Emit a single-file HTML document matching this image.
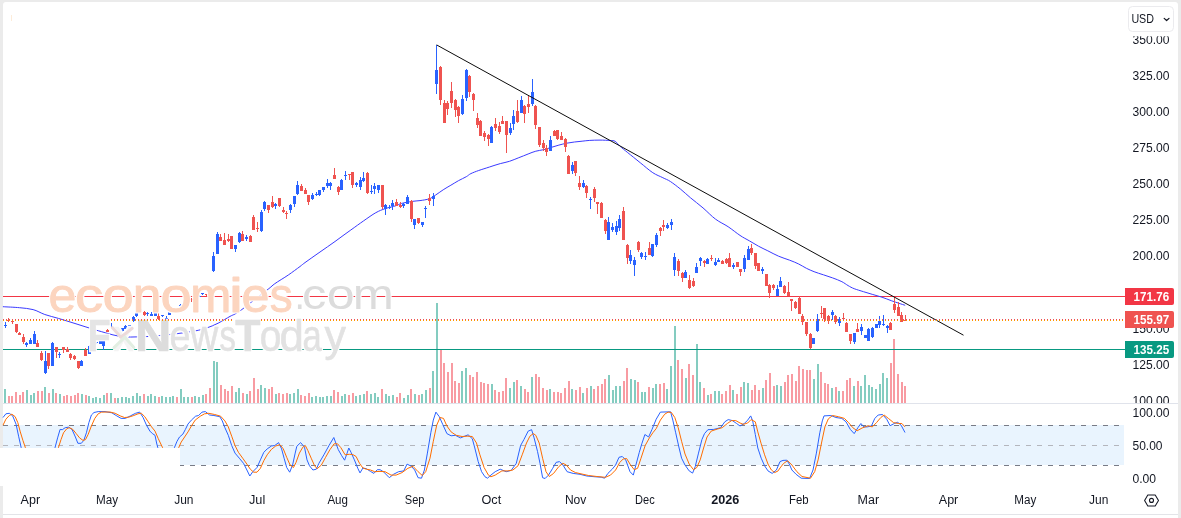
<!DOCTYPE html>
<html lang="en">
<head>
<meta charset="utf-8">
<title>Chart</title>
<style>
html,body{margin:0;padding:0;background:#fff;}
body{width:1181px;height:518px;overflow:hidden;position:relative;font-family:'Liberation Sans', Arial, sans-serif;}
</style>
</head>
<body>
<svg width="1181" height="518" viewBox="0 0 1181 518" style="display:block;position:absolute;left:0;top:0" font-family="'Liberation Sans', Arial, sans-serif">
<rect x="0" y="0" width="1181" height="518" fill="#ebebeb"/>
<path d="M3 518 V5 Q3 2 6 2 H1175 Q1178 2 1178 5 V518 Z" fill="#ffffff"/>
<rect x="11" y="15" width="1" height="6" fill="#fdecd9"/>
<rect x="3" y="425" width="1121" height="40" fill="#e9f4fe"/>
<g shape-rendering="crispEdges"><rect x="4" y="389" width="2" height="14" fill="#84ccc0"/><rect x="8" y="396" width="2" height="7" fill="#f89ba2"/><rect x="11" y="396" width="2" height="7" fill="#f89ba2"/><rect x="15" y="392" width="2" height="11" fill="#f89ba2"/><rect x="19" y="395" width="2" height="8" fill="#f89ba2"/><rect x="22" y="392" width="2" height="11" fill="#f89ba2"/><rect x="26" y="390" width="2" height="13" fill="#84ccc0"/><rect x="30" y="395" width="2" height="8" fill="#84ccc0"/><rect x="33" y="393" width="2" height="10" fill="#84ccc0"/><rect x="37" y="391" width="2" height="12" fill="#f89ba2"/><rect x="41" y="391" width="2" height="12" fill="#f89ba2"/><rect x="44" y="387" width="2" height="16" fill="#84ccc0"/><rect x="48" y="393" width="2" height="10" fill="#f89ba2"/><rect x="52" y="389" width="2" height="14" fill="#84ccc0"/><rect x="55" y="393" width="2" height="10" fill="#f89ba2"/><rect x="59" y="394" width="2" height="9" fill="#84ccc0"/><rect x="63" y="396" width="2" height="7" fill="#f89ba2"/><rect x="66" y="395" width="2" height="8" fill="#f89ba2"/><rect x="70" y="396" width="2" height="7" fill="#f89ba2"/><rect x="74" y="395" width="2" height="8" fill="#f89ba2"/><rect x="77" y="393" width="2" height="10" fill="#f89ba2"/><rect x="81" y="394" width="2" height="9" fill="#84ccc0"/><rect x="85" y="395" width="2" height="8" fill="#f89ba2"/><rect x="88" y="396" width="2" height="7" fill="#84ccc0"/><rect x="92" y="398" width="2" height="5" fill="#84ccc0"/><rect x="95" y="397" width="2" height="6" fill="#84ccc0"/><rect x="99" y="398" width="2" height="5" fill="#84ccc0"/><rect x="103" y="395" width="2" height="8" fill="#84ccc0"/><rect x="106" y="393" width="2" height="10" fill="#f89ba2"/><rect x="110" y="393" width="2" height="10" fill="#84ccc0"/><rect x="114" y="398" width="2" height="5" fill="#f89ba2"/><rect x="117" y="398" width="2" height="5" fill="#84ccc0"/><rect x="121" y="397" width="2" height="6" fill="#84ccc0"/><rect x="125" y="397" width="2" height="6" fill="#84ccc0"/><rect x="128" y="398" width="2" height="5" fill="#84ccc0"/><rect x="132" y="396" width="2" height="7" fill="#84ccc0"/><rect x="136" y="393" width="2" height="10" fill="#84ccc0"/><rect x="139" y="396" width="2" height="7" fill="#84ccc0"/><rect x="143" y="394" width="2" height="9" fill="#f89ba2"/><rect x="147" y="396" width="2" height="7" fill="#84ccc0"/><rect x="150" y="394" width="2" height="9" fill="#84ccc0"/><rect x="154" y="396" width="2" height="7" fill="#84ccc0"/><rect x="158" y="397" width="2" height="6" fill="#f89ba2"/><rect x="161" y="396" width="2" height="7" fill="#84ccc0"/><rect x="165" y="397" width="2" height="6" fill="#84ccc0"/><rect x="169" y="397" width="2" height="6" fill="#84ccc0"/><rect x="172" y="396" width="2" height="7" fill="#84ccc0"/><rect x="176" y="397" width="2" height="6" fill="#f89ba2"/><rect x="180" y="389" width="2" height="14" fill="#84ccc0"/><rect x="183" y="397" width="2" height="6" fill="#84ccc0"/><rect x="187" y="397" width="2" height="6" fill="#84ccc0"/><rect x="191" y="397" width="2" height="6" fill="#f89ba2"/><rect x="194" y="396" width="2" height="7" fill="#84ccc0"/><rect x="198" y="397" width="2" height="6" fill="#84ccc0"/><rect x="202" y="395" width="2" height="8" fill="#84ccc0"/><rect x="205" y="394" width="2" height="9" fill="#f89ba2"/><rect x="209" y="388" width="2" height="15" fill="#f89ba2"/><rect x="213" y="361" width="2" height="42" fill="#84ccc0"/><rect x="216" y="362" width="2" height="41" fill="#84ccc0"/><rect x="220" y="385" width="2" height="18" fill="#f89ba2"/><rect x="224" y="389" width="2" height="14" fill="#f89ba2"/><rect x="227" y="391" width="2" height="12" fill="#f89ba2"/><rect x="231" y="386" width="2" height="17" fill="#f89ba2"/><rect x="235" y="392" width="2" height="11" fill="#84ccc0"/><rect x="238" y="388" width="2" height="15" fill="#84ccc0"/><rect x="242" y="393" width="2" height="10" fill="#f89ba2"/><rect x="246" y="394" width="2" height="9" fill="#84ccc0"/><rect x="249" y="391" width="2" height="12" fill="#f89ba2"/><rect x="253" y="378" width="2" height="25" fill="#f89ba2"/><rect x="257" y="389" width="2" height="14" fill="#f89ba2"/><rect x="260" y="385" width="2" height="18" fill="#84ccc0"/><rect x="264" y="388" width="2" height="15" fill="#84ccc0"/><rect x="268" y="389" width="2" height="14" fill="#f89ba2"/><rect x="271" y="387" width="2" height="16" fill="#f89ba2"/><rect x="275" y="394" width="2" height="9" fill="#84ccc0"/><rect x="278" y="393" width="2" height="10" fill="#f89ba2"/><rect x="282" y="394" width="2" height="9" fill="#f89ba2"/><rect x="286" y="393" width="2" height="10" fill="#f89ba2"/><rect x="289" y="394" width="2" height="9" fill="#84ccc0"/><rect x="293" y="393" width="2" height="10" fill="#84ccc0"/><rect x="297" y="389" width="2" height="14" fill="#84ccc0"/><rect x="300" y="395" width="2" height="8" fill="#f89ba2"/><rect x="304" y="396" width="2" height="7" fill="#f89ba2"/><rect x="308" y="393" width="2" height="10" fill="#f89ba2"/><rect x="311" y="397" width="2" height="6" fill="#84ccc0"/><rect x="315" y="396" width="2" height="7" fill="#84ccc0"/><rect x="319" y="397" width="2" height="6" fill="#84ccc0"/><rect x="322" y="397" width="2" height="6" fill="#84ccc0"/><rect x="326" y="396" width="2" height="7" fill="#84ccc0"/><rect x="330" y="396" width="2" height="7" fill="#84ccc0"/><rect x="333" y="390" width="2" height="13" fill="#f89ba2"/><rect x="337" y="392" width="2" height="11" fill="#f89ba2"/><rect x="341" y="396" width="2" height="7" fill="#84ccc0"/><rect x="344" y="394" width="2" height="9" fill="#84ccc0"/><rect x="348" y="395" width="2" height="8" fill="#f89ba2"/><rect x="352" y="393" width="2" height="10" fill="#f89ba2"/><rect x="355" y="396" width="2" height="7" fill="#84ccc0"/><rect x="359" y="395" width="2" height="8" fill="#84ccc0"/><rect x="363" y="394" width="2" height="9" fill="#84ccc0"/><rect x="366" y="391" width="2" height="12" fill="#f89ba2"/><rect x="370" y="394" width="2" height="9" fill="#84ccc0"/><rect x="374" y="393" width="2" height="10" fill="#84ccc0"/><rect x="377" y="397" width="2" height="6" fill="#84ccc0"/><rect x="381" y="389" width="2" height="14" fill="#f89ba2"/><rect x="385" y="394" width="2" height="9" fill="#84ccc0"/><rect x="388" y="396" width="2" height="7" fill="#84ccc0"/><rect x="392" y="395" width="2" height="8" fill="#84ccc0"/><rect x="396" y="397" width="2" height="6" fill="#f89ba2"/><rect x="399" y="393" width="2" height="10" fill="#f89ba2"/><rect x="403" y="398" width="2" height="5" fill="#84ccc0"/><rect x="407" y="395" width="2" height="8" fill="#84ccc0"/><rect x="410" y="389" width="2" height="14" fill="#f89ba2"/><rect x="414" y="394" width="2" height="9" fill="#84ccc0"/><rect x="418" y="395" width="2" height="8" fill="#f89ba2"/><rect x="421" y="394" width="2" height="9" fill="#84ccc0"/><rect x="425" y="390" width="2" height="13" fill="#84ccc0"/><rect x="429" y="388" width="2" height="15" fill="#f89ba2"/><rect x="432" y="371" width="2" height="32" fill="#84ccc0"/><rect x="436" y="303" width="2" height="100" fill="#84ccc0"/><rect x="440" y="350" width="2" height="53" fill="#f89ba2"/><rect x="443" y="363" width="2" height="40" fill="#f89ba2"/><rect x="447" y="372" width="2" height="31" fill="#f89ba2"/><rect x="451" y="363" width="2" height="40" fill="#f89ba2"/><rect x="454" y="381" width="2" height="22" fill="#f89ba2"/><rect x="458" y="383" width="2" height="20" fill="#f89ba2"/><rect x="461" y="371" width="2" height="32" fill="#84ccc0"/><rect x="465" y="368" width="2" height="35" fill="#84ccc0"/><rect x="469" y="375" width="2" height="28" fill="#f89ba2"/><rect x="472" y="377" width="2" height="26" fill="#f89ba2"/><rect x="476" y="372" width="2" height="31" fill="#f89ba2"/><rect x="480" y="382" width="2" height="21" fill="#f89ba2"/><rect x="483" y="383" width="2" height="20" fill="#f89ba2"/><rect x="487" y="384" width="2" height="19" fill="#f89ba2"/><rect x="491" y="384" width="2" height="19" fill="#84ccc0"/><rect x="494" y="390" width="2" height="13" fill="#f89ba2"/><rect x="498" y="392" width="2" height="11" fill="#f89ba2"/><rect x="502" y="391" width="2" height="12" fill="#f89ba2"/><rect x="505" y="378" width="2" height="25" fill="#f89ba2"/><rect x="509" y="388" width="2" height="15" fill="#84ccc0"/><rect x="513" y="382" width="2" height="21" fill="#84ccc0"/><rect x="516" y="380" width="2" height="23" fill="#f89ba2"/><rect x="520" y="386" width="2" height="17" fill="#84ccc0"/><rect x="524" y="389" width="2" height="14" fill="#f89ba2"/><rect x="527" y="392" width="2" height="11" fill="#f89ba2"/><rect x="531" y="377" width="2" height="26" fill="#84ccc0"/><rect x="535" y="374" width="2" height="29" fill="#f89ba2"/><rect x="538" y="377" width="2" height="26" fill="#f89ba2"/><rect x="542" y="388" width="2" height="15" fill="#f89ba2"/><rect x="546" y="390" width="2" height="13" fill="#f89ba2"/><rect x="549" y="389" width="2" height="14" fill="#84ccc0"/><rect x="553" y="392" width="2" height="11" fill="#f89ba2"/><rect x="557" y="392" width="2" height="11" fill="#f89ba2"/><rect x="560" y="393" width="2" height="10" fill="#f89ba2"/><rect x="564" y="388" width="2" height="15" fill="#f89ba2"/><rect x="568" y="381" width="2" height="22" fill="#f89ba2"/><rect x="571" y="389" width="2" height="14" fill="#84ccc0"/><rect x="575" y="390" width="2" height="13" fill="#f89ba2"/><rect x="579" y="387" width="2" height="16" fill="#f89ba2"/><rect x="582" y="393" width="2" height="10" fill="#84ccc0"/><rect x="586" y="388" width="2" height="15" fill="#f89ba2"/><rect x="590" y="386" width="2" height="17" fill="#84ccc0"/><rect x="593" y="389" width="2" height="14" fill="#f89ba2"/><rect x="597" y="386" width="2" height="17" fill="#f89ba2"/><rect x="601" y="384" width="2" height="19" fill="#f89ba2"/><rect x="604" y="379" width="2" height="24" fill="#f89ba2"/><rect x="608" y="375" width="2" height="28" fill="#84ccc0"/><rect x="612" y="390" width="2" height="13" fill="#84ccc0"/><rect x="615" y="386" width="2" height="17" fill="#84ccc0"/><rect x="619" y="386" width="2" height="17" fill="#84ccc0"/><rect x="623" y="381" width="2" height="22" fill="#f89ba2"/><rect x="626" y="368" width="2" height="35" fill="#f89ba2"/><rect x="630" y="379" width="2" height="24" fill="#84ccc0"/><rect x="634" y="380" width="2" height="23" fill="#84ccc0"/><rect x="637" y="382" width="2" height="21" fill="#f89ba2"/><rect x="641" y="392" width="2" height="11" fill="#84ccc0"/><rect x="644" y="392" width="2" height="11" fill="#84ccc0"/><rect x="648" y="387" width="2" height="16" fill="#f89ba2"/><rect x="652" y="388" width="2" height="15" fill="#84ccc0"/><rect x="655" y="384" width="2" height="19" fill="#84ccc0"/><rect x="659" y="384" width="2" height="19" fill="#f89ba2"/><rect x="663" y="383" width="2" height="20" fill="#f89ba2"/><rect x="666" y="389" width="2" height="14" fill="#84ccc0"/><rect x="670" y="366" width="2" height="37" fill="#84ccc0"/><rect x="674" y="326" width="2" height="77" fill="#84ccc0"/><rect x="677" y="360" width="2" height="43" fill="#f89ba2"/><rect x="681" y="369" width="2" height="34" fill="#f89ba2"/><rect x="685" y="378" width="2" height="25" fill="#84ccc0"/><rect x="688" y="364" width="2" height="39" fill="#f89ba2"/><rect x="692" y="375" width="2" height="28" fill="#f89ba2"/><rect x="696" y="344" width="2" height="59" fill="#84ccc0"/><rect x="699" y="382" width="2" height="21" fill="#84ccc0"/><rect x="703" y="388" width="2" height="15" fill="#f89ba2"/><rect x="707" y="395" width="2" height="8" fill="#84ccc0"/><rect x="710" y="394" width="2" height="9" fill="#f89ba2"/><rect x="714" y="391" width="2" height="12" fill="#84ccc0"/><rect x="718" y="391" width="2" height="12" fill="#84ccc0"/><rect x="721" y="394" width="2" height="9" fill="#f89ba2"/><rect x="725" y="391" width="2" height="12" fill="#f89ba2"/><rect x="729" y="385" width="2" height="18" fill="#f89ba2"/><rect x="732" y="390" width="2" height="13" fill="#84ccc0"/><rect x="736" y="394" width="2" height="9" fill="#f89ba2"/><rect x="740" y="387" width="2" height="16" fill="#f89ba2"/><rect x="743" y="382" width="2" height="21" fill="#84ccc0"/><rect x="747" y="383" width="2" height="20" fill="#84ccc0"/><rect x="751" y="390" width="2" height="13" fill="#f89ba2"/><rect x="754" y="385" width="2" height="18" fill="#f89ba2"/><rect x="758" y="390" width="2" height="13" fill="#f89ba2"/><rect x="762" y="388" width="2" height="15" fill="#84ccc0"/><rect x="765" y="380" width="2" height="23" fill="#f89ba2"/><rect x="769" y="373" width="2" height="30" fill="#f89ba2"/><rect x="773" y="386" width="2" height="17" fill="#f89ba2"/><rect x="776" y="385" width="2" height="18" fill="#84ccc0"/><rect x="780" y="386" width="2" height="17" fill="#84ccc0"/><rect x="784" y="382" width="2" height="21" fill="#f89ba2"/><rect x="787" y="375" width="2" height="28" fill="#f89ba2"/><rect x="791" y="374" width="2" height="29" fill="#f89ba2"/><rect x="795" y="381" width="2" height="22" fill="#f89ba2"/><rect x="798" y="366" width="2" height="37" fill="#f89ba2"/><rect x="802" y="369" width="2" height="34" fill="#f89ba2"/><rect x="806" y="370" width="2" height="33" fill="#f89ba2"/><rect x="809" y="370" width="2" height="33" fill="#f89ba2"/><rect x="813" y="379" width="2" height="24" fill="#84ccc0"/><rect x="817" y="364" width="2" height="39" fill="#84ccc0"/><rect x="820" y="372" width="2" height="31" fill="#f89ba2"/><rect x="824" y="383" width="2" height="20" fill="#f89ba2"/><rect x="827" y="384" width="2" height="19" fill="#f89ba2"/><rect x="831" y="388" width="2" height="15" fill="#84ccc0"/><rect x="835" y="387" width="2" height="16" fill="#f89ba2"/><rect x="838" y="391" width="2" height="12" fill="#84ccc0"/><rect x="842" y="391" width="2" height="12" fill="#f89ba2"/><rect x="846" y="380" width="2" height="23" fill="#f89ba2"/><rect x="849" y="378" width="2" height="25" fill="#f89ba2"/><rect x="853" y="386" width="2" height="17" fill="#84ccc0"/><rect x="857" y="381" width="2" height="22" fill="#f89ba2"/><rect x="860" y="386" width="2" height="17" fill="#84ccc0"/><rect x="864" y="375" width="2" height="28" fill="#84ccc0"/><rect x="868" y="385" width="2" height="18" fill="#84ccc0"/><rect x="871" y="387" width="2" height="16" fill="#84ccc0"/><rect x="875" y="389" width="2" height="14" fill="#84ccc0"/><rect x="879" y="384" width="2" height="19" fill="#84ccc0"/><rect x="882" y="373" width="2" height="30" fill="#84ccc0"/><rect x="886" y="378" width="2" height="25" fill="#84ccc0"/><rect x="890" y="363" width="2" height="40" fill="#f89ba2"/><rect x="893" y="339" width="2" height="64" fill="#f89ba2"/><rect x="897" y="374" width="2" height="29" fill="#f89ba2"/><rect x="901" y="382" width="2" height="21" fill="#f89ba2"/><rect x="904" y="386" width="2" height="17" fill="#f89ba2"/></g>
<rect x="3" y="296" width="1122" height="1" fill="#f23645"/>
<rect x="3" y="349" width="1122" height="1" fill="#089981"/>
<path d="M2.9 306.7 C5.7 306.9 14.5 307.2 19.5 307.7 C24.5 308.2 28.9 308.5 33.1 309.6 C37.3 310.7 40.6 313.0 44.8 314.5 C49.0 316.0 53.5 316.9 58.4 318.4 C63.3 319.8 68.8 321.6 74.0 323.2 C79.2 324.8 85.0 326.7 89.6 328.1 C94.1 329.5 97.4 330.5 101.3 331.6 C105.2 332.7 109.1 334.0 113.0 334.9 C116.9 335.8 120.7 336.6 124.6 336.9 C128.5 337.2 132.4 337.0 136.3 336.9 C140.2 336.8 144.1 336.7 148.0 336.5 C151.9 336.3 155.1 335.9 159.7 335.5 C164.2 335.1 169.5 334.6 175.3 333.9 C181.1 333.1 189.5 332.0 194.7 331.0 C199.9 330.0 202.5 329.4 206.4 328.1 C210.3 326.8 214.2 325.1 218.1 323.2 C222.0 321.2 227.2 317.9 230.0 316.4 C232.8 314.9 233.0 315.1 235.0 314.0 C237.0 312.9 238.8 311.8 241.9 309.5 C245.0 307.2 248.9 304.0 253.4 300.5 C257.9 297.0 265.3 291.4 268.9 288.6 C272.5 285.8 271.6 286.0 274.8 283.7 C278.0 281.4 284.1 277.9 288.3 275.0 C292.5 272.1 297.2 268.6 300.0 266.5 C302.8 264.4 301.7 265.0 305.0 262.6 C308.3 260.2 315.0 255.5 320.0 252.0 C325.0 248.5 329.9 245.2 335.0 241.5 C340.1 237.8 346.0 233.4 350.8 230.0 C355.6 226.6 359.5 223.7 363.7 220.8 C367.9 217.9 372.2 214.7 375.8 212.7 C379.4 210.7 381.9 209.8 385.3 208.6 C388.7 207.4 393.3 206.6 396.0 205.7 C398.7 204.8 398.9 204.1 401.6 203.4 C404.3 202.7 408.9 201.9 412.0 201.4 C415.1 200.9 417.1 201.0 420.0 200.6 C422.9 200.2 426.7 199.7 429.3 198.8 C431.9 197.9 433.1 196.7 435.4 195.2 C437.7 193.7 440.6 191.5 443.2 189.8 C445.8 188.1 448.3 186.7 450.9 185.2 C453.5 183.7 456.0 182.0 458.6 180.6 C461.2 179.2 464.2 177.9 466.3 176.7 C468.4 175.5 468.8 174.6 470.9 173.6 C473.0 172.6 475.6 171.6 478.7 170.5 C481.8 169.4 485.9 168.2 489.5 167.0 C493.1 165.8 497.0 164.5 500.3 163.6 C503.6 162.7 506.4 162.3 509.5 161.3 C512.6 160.3 515.7 158.9 518.8 157.7 C521.9 156.5 525.3 155.1 528.1 154.0 C530.9 152.9 533.2 151.9 535.8 151.2 C538.4 150.5 540.9 150.3 543.5 149.7 C546.1 149.1 548.6 148.2 551.2 147.4 C553.8 146.6 556.3 145.8 558.9 145.1 C561.5 144.4 564.1 143.7 566.7 143.2 C569.3 142.7 571.8 142.3 574.4 142.0 C577.0 141.7 579.5 141.5 582.1 141.2 C584.7 140.9 586.8 140.6 589.8 140.4 C592.8 140.2 596.6 140.1 600.0 140.1 C603.4 140.1 607.6 140.3 610.1 140.5 C612.6 140.7 613.4 140.3 615.1 141.3 C616.8 142.3 618.0 144.4 620.1 146.3 C622.2 148.2 624.4 149.9 627.7 152.6 C631.1 155.3 636.0 159.3 640.2 162.7 C644.4 166.0 649.0 170.2 652.8 172.7 C656.6 175.2 659.9 176.2 662.8 177.7 C665.7 179.2 667.5 179.6 670.4 181.5 C673.3 183.4 677.0 186.3 680.4 189.0 C683.8 191.7 686.7 194.7 690.5 197.8 C694.3 201.0 698.8 204.3 703.0 207.9 C707.2 211.5 711.4 216.1 715.6 219.2 C719.8 222.3 724.0 224.0 728.1 226.7 C732.2 229.4 736.5 233.1 740.0 235.4 C743.5 237.8 746.2 239.0 749.3 240.8 C752.4 242.6 755.4 244.5 758.5 246.2 C761.6 247.9 764.4 249.1 767.8 250.8 C771.1 252.5 775.0 254.6 778.6 256.2 C782.2 257.8 786.0 258.8 789.4 260.1 C792.8 261.4 795.9 262.6 798.7 264.0 C801.5 265.4 803.8 267.0 806.4 268.3 C809.0 269.6 811.3 270.6 814.1 271.7 C816.9 272.8 820.3 273.8 823.4 274.8 C826.5 275.8 829.5 276.8 832.6 277.9 C835.7 279.0 839.3 280.4 841.9 281.7 C844.5 283.0 846.0 284.4 848.1 285.6 C850.2 286.8 851.6 287.7 854.2 288.7 C856.8 289.7 860.4 290.7 863.5 291.7 C866.6 292.7 869.7 293.6 872.8 294.5 C875.9 295.4 878.9 296.2 882.0 297.2 C885.1 298.2 888.5 299.7 891.3 300.7 C894.1 301.7 896.7 302.5 899.0 303.3 C901.3 304.1 904.2 305.0 905.2 305.3" stroke="#3a3aff" stroke-width="1" fill="none"/>
<g shape-rendering="crispEdges"><rect x="5" y="322" width="1" height="6" fill="#2962ff"/><rect x="4" y="325" width="3" height="1" fill="#2962ff"/><rect x="8" y="318" width="1" height="4" fill="#ef5350"/><rect x="7" y="320" width="3" height="1" fill="#ef5350"/><rect x="12" y="320" width="1" height="4" fill="#ef5350"/><rect x="11" y="321" width="3" height="1" fill="#ef5350"/><rect x="16" y="324" width="1" height="9" fill="#ef5350"/><rect x="15" y="324" width="3" height="8" fill="#ef5350"/><rect x="19" y="332" width="1" height="3" fill="#ef5350"/><rect x="18" y="333" width="3" height="2" fill="#ef5350"/><rect x="23" y="334" width="1" height="10" fill="#ef5350"/><rect x="22" y="337" width="3" height="5" fill="#ef5350"/><rect x="26" y="342" width="1" height="5" fill="#2962ff"/><rect x="25" y="343" width="3" height="2" fill="#2962ff"/><rect x="30" y="338" width="1" height="6" fill="#2962ff"/><rect x="29" y="340" width="3" height="4" fill="#2962ff"/><rect x="34" y="331" width="1" height="13" fill="#2962ff"/><rect x="33" y="334" width="3" height="10" fill="#2962ff"/><rect x="37" y="340" width="1" height="7" fill="#ef5350"/><rect x="36" y="343" width="3" height="4" fill="#ef5350"/><rect x="41" y="351" width="1" height="10" fill="#ef5350"/><rect x="40" y="353" width="3" height="7" fill="#ef5350"/><rect x="45" y="351" width="1" height="23" fill="#2962ff"/><rect x="44" y="361" width="3" height="12" fill="#2962ff"/><rect x="48" y="353" width="1" height="16" fill="#ef5350"/><rect x="47" y="353" width="3" height="13" fill="#ef5350"/><rect x="52" y="342" width="1" height="24" fill="#2962ff"/><rect x="51" y="343" width="3" height="23" fill="#2962ff"/><rect x="56" y="347" width="1" height="11" fill="#ef5350"/><rect x="55" y="347" width="3" height="5" fill="#ef5350"/><rect x="59" y="352" width="1" height="6" fill="#2962ff"/><rect x="58" y="354" width="3" height="1" fill="#2962ff"/><rect x="63" y="347" width="1" height="6" fill="#ef5350"/><rect x="62" y="347" width="3" height="3" fill="#ef5350"/><rect x="67" y="347" width="1" height="5" fill="#ef5350"/><rect x="66" y="349" width="3" height="3" fill="#ef5350"/><rect x="70" y="353" width="1" height="7" fill="#ef5350"/><rect x="69" y="354" width="3" height="4" fill="#ef5350"/><rect x="74" y="355" width="1" height="5" fill="#ef5350"/><rect x="73" y="356" width="3" height="3" fill="#ef5350"/><rect x="78" y="361" width="1" height="8" fill="#ef5350"/><rect x="77" y="361" width="3" height="7" fill="#ef5350"/><rect x="81" y="360" width="1" height="6" fill="#2962ff"/><rect x="80" y="361" width="3" height="5" fill="#2962ff"/><rect x="85" y="348" width="1" height="8" fill="#ef5350"/><rect x="84" y="350" width="3" height="6" fill="#ef5350"/><rect x="89" y="345" width="1" height="9" fill="#2962ff"/><rect x="88" y="346" width="3" height="8" fill="#2962ff"/><rect x="92" y="343" width="1" height="7" fill="#2962ff"/><rect x="91" y="344" width="3" height="5" fill="#2962ff"/><rect x="96" y="342" width="1" height="2" fill="#2962ff"/><rect x="95" y="342" width="3" height="1" fill="#2962ff"/><rect x="100" y="340" width="1" height="4" fill="#2962ff"/><rect x="99" y="341" width="3" height="3" fill="#2962ff"/><rect x="103" y="340" width="1" height="10" fill="#2962ff"/><rect x="102" y="341" width="3" height="5" fill="#2962ff"/><rect x="107" y="329" width="1" height="3" fill="#ef5350"/><rect x="106" y="330" width="3" height="2" fill="#ef5350"/><rect x="111" y="323" width="1" height="4" fill="#2962ff"/><rect x="114" y="326" width="1" height="4" fill="#ef5350"/><rect x="113" y="327" width="3" height="2" fill="#ef5350"/><rect x="118" y="329" width="1" height="3" fill="#2962ff"/><rect x="117" y="329" width="3" height="3" fill="#2962ff"/><rect x="122" y="328" width="1" height="4" fill="#2962ff"/><rect x="121" y="328" width="3" height="3" fill="#2962ff"/><rect x="125" y="325" width="1" height="4" fill="#2962ff"/><rect x="124" y="326" width="3" height="3" fill="#2962ff"/><rect x="129" y="325" width="1" height="2" fill="#2962ff"/><rect x="128" y="325" width="3" height="1" fill="#2962ff"/><rect x="133" y="316" width="1" height="6" fill="#2962ff"/><rect x="132" y="317" width="3" height="4" fill="#2962ff"/><rect x="136" y="312" width="1" height="5" fill="#2962ff"/><rect x="135" y="312" width="3" height="4" fill="#2962ff"/><rect x="140" y="308" width="1" height="4" fill="#2962ff"/><rect x="139" y="309" width="3" height="3" fill="#2962ff"/><rect x="144" y="311" width="1" height="5" fill="#ef5350"/><rect x="143" y="312" width="3" height="3" fill="#ef5350"/><rect x="147" y="312" width="1" height="4" fill="#2962ff"/><rect x="146" y="313" width="3" height="1" fill="#2962ff"/><rect x="151" y="312" width="1" height="4" fill="#2962ff"/><rect x="150" y="314" width="3" height="2" fill="#2962ff"/><rect x="155" y="313" width="1" height="3" fill="#2962ff"/><rect x="154" y="313" width="3" height="3" fill="#2962ff"/><rect x="158" y="312" width="1" height="8" fill="#ef5350"/><rect x="157" y="316" width="3" height="3" fill="#ef5350"/><rect x="162" y="315" width="1" height="2" fill="#2962ff"/><rect x="161" y="315" width="3" height="1" fill="#2962ff"/><rect x="166" y="316" width="1" height="4" fill="#2962ff"/><rect x="165" y="318" width="3" height="2" fill="#2962ff"/><rect x="169" y="312" width="1" height="3" fill="#2962ff"/><rect x="168" y="312" width="3" height="3" fill="#2962ff"/><rect x="173" y="310" width="1" height="2" fill="#2962ff"/><rect x="172" y="310" width="3" height="1" fill="#2962ff"/><rect x="177" y="308" width="1" height="2" fill="#ef5350"/><rect x="176" y="308" width="3" height="2" fill="#ef5350"/><rect x="180" y="304" width="1" height="3" fill="#2962ff"/><rect x="179" y="305" width="3" height="1" fill="#2962ff"/><rect x="184" y="302" width="1" height="2" fill="#2962ff"/><rect x="183" y="303" width="3" height="1" fill="#2962ff"/><rect x="188" y="300" width="1" height="2" fill="#2962ff"/><rect x="187" y="300" width="3" height="2" fill="#2962ff"/><rect x="191" y="298" width="1" height="4" fill="#ef5350"/><rect x="190" y="299" width="3" height="1" fill="#ef5350"/><rect x="195" y="297" width="1" height="2" fill="#2962ff"/><rect x="194" y="298" width="3" height="1" fill="#2962ff"/><rect x="199" y="295" width="1" height="2" fill="#2962ff"/><rect x="198" y="296" width="3" height="1" fill="#2962ff"/><rect x="202" y="293" width="1" height="2" fill="#2962ff"/><rect x="201" y="293" width="3" height="1" fill="#2962ff"/><rect x="206" y="294" width="1" height="2" fill="#ef5350"/><rect x="205" y="294" width="3" height="1" fill="#ef5350"/><rect x="209" y="295" width="1" height="2" fill="#ef5350"/><rect x="208" y="296" width="3" height="1" fill="#ef5350"/><rect x="213" y="252" width="1" height="20" fill="#2962ff"/><rect x="212" y="256" width="3" height="15" fill="#2962ff"/><rect x="217" y="232" width="1" height="22" fill="#2962ff"/><rect x="216" y="234" width="3" height="20" fill="#2962ff"/><rect x="220" y="234" width="1" height="7" fill="#ef5350"/><rect x="219" y="237" width="3" height="4" fill="#ef5350"/><rect x="224" y="233" width="1" height="12" fill="#ef5350"/><rect x="223" y="240" width="3" height="5" fill="#ef5350"/><rect x="228" y="234" width="1" height="8" fill="#ef5350"/><rect x="227" y="239" width="3" height="2" fill="#ef5350"/><rect x="231" y="236" width="1" height="13" fill="#ef5350"/><rect x="230" y="236" width="3" height="13" fill="#ef5350"/><rect x="235" y="245" width="1" height="7" fill="#2962ff"/><rect x="234" y="245" width="3" height="4" fill="#2962ff"/><rect x="239" y="232" width="1" height="11" fill="#2962ff"/><rect x="238" y="233" width="3" height="9" fill="#2962ff"/><rect x="242" y="231" width="1" height="10" fill="#ef5350"/><rect x="241" y="234" width="3" height="7" fill="#ef5350"/><rect x="246" y="235" width="1" height="6" fill="#2962ff"/><rect x="245" y="237" width="3" height="2" fill="#2962ff"/><rect x="250" y="235" width="1" height="7" fill="#ef5350"/><rect x="249" y="236" width="3" height="6" fill="#ef5350"/><rect x="253" y="215" width="1" height="15" fill="#ef5350"/><rect x="252" y="217" width="3" height="13" fill="#ef5350"/><rect x="257" y="222" width="1" height="10" fill="#ef5350"/><rect x="256" y="228" width="3" height="1" fill="#ef5350"/><rect x="261" y="210" width="1" height="22" fill="#2962ff"/><rect x="260" y="212" width="3" height="19" fill="#2962ff"/><rect x="264" y="201" width="1" height="10" fill="#2962ff"/><rect x="263" y="202" width="3" height="7" fill="#2962ff"/><rect x="268" y="205" width="1" height="8" fill="#ef5350"/><rect x="267" y="205" width="3" height="5" fill="#ef5350"/><rect x="272" y="196" width="1" height="12" fill="#ef5350"/><rect x="271" y="202" width="3" height="5" fill="#ef5350"/><rect x="275" y="203" width="1" height="6" fill="#2962ff"/><rect x="274" y="204" width="3" height="2" fill="#2962ff"/><rect x="279" y="198" width="1" height="9" fill="#ef5350"/><rect x="278" y="198" width="3" height="8" fill="#ef5350"/><rect x="283" y="207" width="1" height="6" fill="#ef5350"/><rect x="282" y="210" width="3" height="2" fill="#ef5350"/><rect x="286" y="211" width="1" height="8" fill="#ef5350"/><rect x="285" y="213" width="3" height="1" fill="#ef5350"/><rect x="290" y="204" width="1" height="9" fill="#2962ff"/><rect x="289" y="205" width="3" height="5" fill="#2962ff"/><rect x="294" y="196" width="1" height="11" fill="#2962ff"/><rect x="293" y="196" width="3" height="8" fill="#2962ff"/><rect x="297" y="181" width="1" height="14" fill="#2962ff"/><rect x="296" y="185" width="3" height="9" fill="#2962ff"/><rect x="301" y="184" width="1" height="7" fill="#ef5350"/><rect x="300" y="186" width="3" height="5" fill="#ef5350"/><rect x="305" y="188" width="1" height="6" fill="#ef5350"/><rect x="304" y="190" width="3" height="4" fill="#ef5350"/><rect x="308" y="195" width="1" height="10" fill="#ef5350"/><rect x="307" y="195" width="3" height="7" fill="#ef5350"/><rect x="312" y="193" width="1" height="7" fill="#2962ff"/><rect x="311" y="195" width="3" height="4" fill="#2962ff"/><rect x="316" y="192" width="1" height="4" fill="#2962ff"/><rect x="315" y="194" width="3" height="1" fill="#2962ff"/><rect x="319" y="190" width="1" height="6" fill="#2962ff"/><rect x="318" y="190" width="3" height="5" fill="#2962ff"/><rect x="323" y="187" width="1" height="5" fill="#2962ff"/><rect x="322" y="187" width="3" height="3" fill="#2962ff"/><rect x="327" y="179" width="1" height="9" fill="#2962ff"/><rect x="326" y="183" width="3" height="3" fill="#2962ff"/><rect x="330" y="182" width="1" height="8" fill="#2962ff"/><rect x="329" y="183" width="3" height="3" fill="#2962ff"/><rect x="334" y="168" width="1" height="11" fill="#ef5350"/><rect x="333" y="175" width="3" height="4" fill="#ef5350"/><rect x="338" y="186" width="1" height="9" fill="#ef5350"/><rect x="337" y="187" width="3" height="5" fill="#ef5350"/><rect x="341" y="179" width="1" height="11" fill="#2962ff"/><rect x="340" y="180" width="3" height="10" fill="#2962ff"/><rect x="345" y="171" width="1" height="9" fill="#2962ff"/><rect x="344" y="175" width="3" height="1" fill="#2962ff"/><rect x="349" y="174" width="1" height="6" fill="#ef5350"/><rect x="348" y="174" width="3" height="1" fill="#ef5350"/><rect x="352" y="172" width="1" height="16" fill="#ef5350"/><rect x="351" y="172" width="3" height="13" fill="#ef5350"/><rect x="356" y="182" width="1" height="5" fill="#2962ff"/><rect x="355" y="183" width="3" height="2" fill="#2962ff"/><rect x="360" y="177" width="1" height="13" fill="#2962ff"/><rect x="359" y="180" width="3" height="7" fill="#2962ff"/><rect x="363" y="172" width="1" height="10" fill="#2962ff"/><rect x="362" y="178" width="3" height="3" fill="#2962ff"/><rect x="367" y="172" width="1" height="22" fill="#ef5350"/><rect x="366" y="173" width="3" height="20" fill="#ef5350"/><rect x="371" y="185" width="1" height="9" fill="#2962ff"/><rect x="370" y="191" width="3" height="1" fill="#2962ff"/><rect x="374" y="183" width="1" height="11" fill="#2962ff"/><rect x="373" y="186" width="3" height="3" fill="#2962ff"/><rect x="378" y="185" width="1" height="8" fill="#2962ff"/><rect x="377" y="185" width="3" height="5" fill="#2962ff"/><rect x="382" y="185" width="1" height="24" fill="#ef5350"/><rect x="381" y="185" width="3" height="22" fill="#ef5350"/><rect x="385" y="204" width="1" height="11" fill="#2962ff"/><rect x="384" y="205" width="3" height="4" fill="#2962ff"/><rect x="389" y="205" width="1" height="4" fill="#2962ff"/><rect x="388" y="207" width="3" height="1" fill="#2962ff"/><rect x="392" y="200" width="1" height="10" fill="#2962ff"/><rect x="391" y="203" width="3" height="3" fill="#2962ff"/><rect x="396" y="199" width="1" height="7" fill="#ef5350"/><rect x="395" y="202" width="3" height="4" fill="#ef5350"/><rect x="400" y="202" width="1" height="6" fill="#ef5350"/><rect x="399" y="205" width="3" height="2" fill="#ef5350"/><rect x="403" y="203" width="1" height="5" fill="#2962ff"/><rect x="402" y="204" width="3" height="2" fill="#2962ff"/><rect x="407" y="195" width="1" height="9" fill="#2962ff"/><rect x="406" y="197" width="3" height="7" fill="#2962ff"/><rect x="411" y="200" width="1" height="22" fill="#ef5350"/><rect x="410" y="201" width="3" height="18" fill="#ef5350"/><rect x="414" y="219" width="1" height="10" fill="#2962ff"/><rect x="413" y="219" width="3" height="6" fill="#2962ff"/><rect x="418" y="218" width="1" height="6" fill="#ef5350"/><rect x="417" y="218" width="3" height="5" fill="#ef5350"/><rect x="422" y="222" width="1" height="5" fill="#2962ff"/><rect x="421" y="222" width="3" height="3" fill="#2962ff"/><rect x="425" y="206" width="1" height="12" fill="#2962ff"/><rect x="424" y="208" width="3" height="1" fill="#2962ff"/><rect x="429" y="194" width="1" height="11" fill="#ef5350"/><rect x="428" y="198" width="3" height="3" fill="#ef5350"/><rect x="433" y="193" width="1" height="13" fill="#2962ff"/><rect x="432" y="196" width="3" height="3" fill="#2962ff"/><rect x="436" y="45" width="1" height="49" fill="#2962ff"/><rect x="435" y="70" width="3" height="14" fill="#2962ff"/><rect x="440" y="66" width="1" height="39" fill="#ef5350"/><rect x="439" y="67" width="3" height="33" fill="#ef5350"/><rect x="444" y="100" width="1" height="23" fill="#ef5350"/><rect x="443" y="103" width="3" height="20" fill="#ef5350"/><rect x="447" y="101" width="1" height="14" fill="#ef5350"/><rect x="446" y="103" width="3" height="6" fill="#ef5350"/><rect x="451" y="82" width="1" height="26" fill="#ef5350"/><rect x="450" y="91" width="3" height="12" fill="#ef5350"/><rect x="455" y="99" width="1" height="18" fill="#ef5350"/><rect x="454" y="100" width="3" height="10" fill="#ef5350"/><rect x="458" y="106" width="1" height="17" fill="#ef5350"/><rect x="457" y="107" width="3" height="9" fill="#ef5350"/><rect x="462" y="95" width="1" height="20" fill="#2962ff"/><rect x="461" y="99" width="3" height="15" fill="#2962ff"/><rect x="466" y="69" width="1" height="32" fill="#2962ff"/><rect x="465" y="70" width="3" height="28" fill="#2962ff"/><rect x="469" y="75" width="1" height="22" fill="#ef5350"/><rect x="468" y="76" width="3" height="16" fill="#ef5350"/><rect x="473" y="93" width="1" height="18" fill="#ef5350"/><rect x="472" y="94" width="3" height="6" fill="#ef5350"/><rect x="477" y="113" width="1" height="15" fill="#ef5350"/><rect x="476" y="118" width="3" height="7" fill="#ef5350"/><rect x="480" y="120" width="1" height="16" fill="#ef5350"/><rect x="479" y="121" width="3" height="15" fill="#ef5350"/><rect x="484" y="131" width="1" height="10" fill="#ef5350"/><rect x="483" y="133" width="3" height="4" fill="#ef5350"/><rect x="488" y="134" width="1" height="12" fill="#ef5350"/><rect x="487" y="135" width="3" height="4" fill="#ef5350"/><rect x="491" y="126" width="1" height="17" fill="#2962ff"/><rect x="490" y="127" width="3" height="16" fill="#2962ff"/><rect x="495" y="118" width="1" height="13" fill="#ef5350"/><rect x="494" y="124" width="3" height="4" fill="#ef5350"/><rect x="499" y="122" width="1" height="12" fill="#ef5350"/><rect x="498" y="126" width="3" height="6" fill="#ef5350"/><rect x="502" y="116" width="1" height="8" fill="#ef5350"/><rect x="501" y="121" width="3" height="3" fill="#ef5350"/><rect x="506" y="121" width="1" height="32" fill="#ef5350"/><rect x="505" y="121" width="3" height="14" fill="#ef5350"/><rect x="510" y="123" width="1" height="12" fill="#2962ff"/><rect x="509" y="128" width="3" height="5" fill="#2962ff"/><rect x="513" y="110" width="1" height="20" fill="#2962ff"/><rect x="512" y="116" width="3" height="8" fill="#2962ff"/><rect x="517" y="100" width="1" height="23" fill="#ef5350"/><rect x="516" y="111" width="3" height="11" fill="#ef5350"/><rect x="521" y="96" width="1" height="17" fill="#2962ff"/><rect x="520" y="100" width="3" height="13" fill="#2962ff"/><rect x="524" y="105" width="1" height="18" fill="#ef5350"/><rect x="523" y="106" width="3" height="8" fill="#ef5350"/><rect x="528" y="96" width="1" height="17" fill="#ef5350"/><rect x="527" y="104" width="3" height="3" fill="#ef5350"/><rect x="532" y="79" width="1" height="27" fill="#2962ff"/><rect x="531" y="92" width="3" height="12" fill="#2962ff"/><rect x="535" y="105" width="1" height="24" fill="#ef5350"/><rect x="534" y="106" width="3" height="19" fill="#ef5350"/><rect x="539" y="127" width="1" height="20" fill="#ef5350"/><rect x="538" y="127" width="3" height="18" fill="#ef5350"/><rect x="543" y="140" width="1" height="11" fill="#ef5350"/><rect x="542" y="143" width="3" height="5" fill="#ef5350"/><rect x="546" y="145" width="1" height="11" fill="#ef5350"/><rect x="545" y="148" width="3" height="4" fill="#ef5350"/><rect x="550" y="136" width="1" height="15" fill="#2962ff"/><rect x="549" y="140" width="3" height="11" fill="#2962ff"/><rect x="554" y="130" width="1" height="6" fill="#ef5350"/><rect x="553" y="131" width="3" height="5" fill="#ef5350"/><rect x="557" y="130" width="1" height="10" fill="#ef5350"/><rect x="556" y="130" width="3" height="9" fill="#ef5350"/><rect x="561" y="132" width="1" height="8" fill="#ef5350"/><rect x="560" y="136" width="3" height="4" fill="#ef5350"/><rect x="565" y="138" width="1" height="14" fill="#ef5350"/><rect x="564" y="139" width="3" height="8" fill="#ef5350"/><rect x="568" y="155" width="1" height="19" fill="#ef5350"/><rect x="567" y="156" width="3" height="18" fill="#ef5350"/><rect x="572" y="162" width="1" height="12" fill="#2962ff"/><rect x="571" y="165" width="3" height="6" fill="#2962ff"/><rect x="575" y="161" width="1" height="15" fill="#ef5350"/><rect x="574" y="161" width="3" height="12" fill="#ef5350"/><rect x="579" y="176" width="1" height="14" fill="#ef5350"/><rect x="578" y="183" width="3" height="4" fill="#ef5350"/><rect x="583" y="180" width="1" height="8" fill="#2962ff"/><rect x="582" y="183" width="3" height="4" fill="#2962ff"/><rect x="586" y="185" width="1" height="13" fill="#ef5350"/><rect x="585" y="186" width="3" height="7" fill="#ef5350"/><rect x="590" y="197" width="1" height="12" fill="#2962ff"/><rect x="589" y="199" width="3" height="1" fill="#2962ff"/><rect x="594" y="187" width="1" height="15" fill="#ef5350"/><rect x="593" y="189" width="3" height="9" fill="#ef5350"/><rect x="597" y="202" width="1" height="12" fill="#ef5350"/><rect x="596" y="202" width="3" height="2" fill="#ef5350"/><rect x="601" y="202" width="1" height="16" fill="#ef5350"/><rect x="600" y="203" width="3" height="15" fill="#ef5350"/><rect x="605" y="219" width="1" height="15" fill="#ef5350"/><rect x="604" y="220" width="3" height="11" fill="#ef5350"/><rect x="608" y="217" width="1" height="23" fill="#2962ff"/><rect x="607" y="222" width="3" height="18" fill="#2962ff"/><rect x="612" y="223" width="1" height="9" fill="#2962ff"/><rect x="611" y="227" width="3" height="3" fill="#2962ff"/><rect x="616" y="221" width="1" height="14" fill="#2962ff"/><rect x="615" y="226" width="3" height="6" fill="#2962ff"/><rect x="619" y="215" width="1" height="16" fill="#2962ff"/><rect x="618" y="219" width="3" height="9" fill="#2962ff"/><rect x="623" y="207" width="1" height="33" fill="#ef5350"/><rect x="622" y="211" width="3" height="29" fill="#ef5350"/><rect x="627" y="244" width="1" height="20" fill="#ef5350"/><rect x="626" y="245" width="3" height="13" fill="#ef5350"/><rect x="630" y="250" width="1" height="14" fill="#2962ff"/><rect x="629" y="255" width="3" height="6" fill="#2962ff"/><rect x="634" y="257" width="1" height="19" fill="#2962ff"/><rect x="633" y="260" width="3" height="5" fill="#2962ff"/><rect x="638" y="241" width="1" height="11" fill="#ef5350"/><rect x="637" y="242" width="3" height="8" fill="#ef5350"/><rect x="641" y="252" width="1" height="7" fill="#2962ff"/><rect x="640" y="253" width="3" height="4" fill="#2962ff"/><rect x="645" y="252" width="1" height="8" fill="#2962ff"/><rect x="644" y="256" width="3" height="1" fill="#2962ff"/><rect x="649" y="242" width="1" height="13" fill="#ef5350"/><rect x="648" y="248" width="3" height="7" fill="#ef5350"/><rect x="652" y="244" width="1" height="13" fill="#2962ff"/><rect x="651" y="244" width="3" height="12" fill="#2962ff"/><rect x="656" y="233" width="1" height="14" fill="#2962ff"/><rect x="655" y="235" width="3" height="10" fill="#2962ff"/><rect x="660" y="227" width="1" height="9" fill="#ef5350"/><rect x="659" y="228" width="3" height="3" fill="#ef5350"/><rect x="663" y="220" width="1" height="11" fill="#ef5350"/><rect x="662" y="225" width="3" height="2" fill="#ef5350"/><rect x="667" y="223" width="1" height="6" fill="#2962ff"/><rect x="666" y="225" width="3" height="3" fill="#2962ff"/><rect x="671" y="219" width="1" height="11" fill="#2962ff"/><rect x="670" y="222" width="3" height="3" fill="#2962ff"/><rect x="674" y="253" width="1" height="23" fill="#2962ff"/><rect x="673" y="257" width="3" height="13" fill="#2962ff"/><rect x="678" y="259" width="1" height="17" fill="#ef5350"/><rect x="677" y="261" width="3" height="10" fill="#ef5350"/><rect x="682" y="272" width="1" height="10" fill="#ef5350"/><rect x="681" y="273" width="3" height="5" fill="#ef5350"/><rect x="685" y="270" width="1" height="8" fill="#2962ff"/><rect x="684" y="272" width="3" height="6" fill="#2962ff"/><rect x="689" y="275" width="1" height="14" fill="#ef5350"/><rect x="688" y="280" width="3" height="8" fill="#ef5350"/><rect x="693" y="278" width="1" height="9" fill="#ef5350"/><rect x="692" y="281" width="3" height="5" fill="#ef5350"/><rect x="696" y="263" width="1" height="10" fill="#2962ff"/><rect x="695" y="267" width="3" height="6" fill="#2962ff"/><rect x="700" y="257" width="1" height="9" fill="#2962ff"/><rect x="699" y="258" width="3" height="3" fill="#2962ff"/><rect x="704" y="260" width="1" height="7" fill="#ef5350"/><rect x="703" y="261" width="3" height="2" fill="#ef5350"/><rect x="707" y="258" width="1" height="6" fill="#2962ff"/><rect x="706" y="259" width="3" height="5" fill="#2962ff"/><rect x="711" y="255" width="1" height="6" fill="#ef5350"/><rect x="710" y="258" width="3" height="1" fill="#ef5350"/><rect x="715" y="258" width="1" height="8" fill="#2962ff"/><rect x="714" y="262" width="3" height="3" fill="#2962ff"/><rect x="718" y="258" width="1" height="4" fill="#2962ff"/><rect x="717" y="260" width="3" height="2" fill="#2962ff"/><rect x="722" y="260" width="1" height="4" fill="#ef5350"/><rect x="721" y="261" width="3" height="3" fill="#ef5350"/><rect x="726" y="258" width="1" height="6" fill="#ef5350"/><rect x="725" y="259" width="3" height="4" fill="#ef5350"/><rect x="729" y="253" width="1" height="14" fill="#ef5350"/><rect x="728" y="258" width="3" height="9" fill="#ef5350"/><rect x="733" y="263" width="1" height="6" fill="#2962ff"/><rect x="732" y="265" width="3" height="2" fill="#2962ff"/><rect x="737" y="262" width="1" height="5" fill="#ef5350"/><rect x="736" y="262" width="3" height="5" fill="#ef5350"/><rect x="740" y="269" width="1" height="7" fill="#ef5350"/><rect x="739" y="269" width="3" height="3" fill="#ef5350"/><rect x="744" y="255" width="1" height="17" fill="#2962ff"/><rect x="743" y="258" width="3" height="11" fill="#2962ff"/><rect x="748" y="246" width="1" height="14" fill="#2962ff"/><rect x="747" y="249" width="3" height="11" fill="#2962ff"/><rect x="751" y="244" width="1" height="11" fill="#ef5350"/><rect x="750" y="248" width="3" height="5" fill="#ef5350"/><rect x="755" y="253" width="1" height="16" fill="#ef5350"/><rect x="754" y="253" width="3" height="13" fill="#ef5350"/><rect x="758" y="263" width="1" height="8" fill="#ef5350"/><rect x="757" y="263" width="3" height="8" fill="#ef5350"/><rect x="762" y="267" width="1" height="7" fill="#2962ff"/><rect x="761" y="269" width="3" height="2" fill="#2962ff"/><rect x="766" y="274" width="1" height="12" fill="#ef5350"/><rect x="765" y="274" width="3" height="12" fill="#ef5350"/><rect x="769" y="284" width="1" height="14" fill="#ef5350"/><rect x="768" y="285" width="3" height="8" fill="#ef5350"/><rect x="773" y="284" width="1" height="6" fill="#ef5350"/><rect x="772" y="285" width="3" height="3" fill="#ef5350"/><rect x="777" y="285" width="1" height="11" fill="#2962ff"/><rect x="776" y="289" width="3" height="7" fill="#2962ff"/><rect x="780" y="277" width="1" height="10" fill="#2962ff"/><rect x="779" y="281" width="3" height="6" fill="#2962ff"/><rect x="784" y="285" width="1" height="9" fill="#ef5350"/><rect x="783" y="286" width="3" height="7" fill="#ef5350"/><rect x="788" y="282" width="1" height="14" fill="#ef5350"/><rect x="787" y="292" width="3" height="4" fill="#ef5350"/><rect x="791" y="299" width="1" height="12" fill="#ef5350"/><rect x="790" y="299" width="3" height="2" fill="#ef5350"/><rect x="795" y="301" width="1" height="8" fill="#ef5350"/><rect x="794" y="302" width="3" height="6" fill="#ef5350"/><rect x="799" y="296" width="1" height="18" fill="#ef5350"/><rect x="798" y="298" width="3" height="16" fill="#ef5350"/><rect x="802" y="314" width="1" height="11" fill="#ef5350"/><rect x="801" y="316" width="3" height="6" fill="#ef5350"/><rect x="806" y="322" width="1" height="14" fill="#ef5350"/><rect x="805" y="322" width="3" height="12" fill="#ef5350"/><rect x="810" y="333" width="1" height="16" fill="#ef5350"/><rect x="809" y="334" width="3" height="14" fill="#ef5350"/><rect x="813" y="338" width="1" height="6" fill="#2962ff"/><rect x="812" y="338" width="3" height="6" fill="#2962ff"/><rect x="817" y="314" width="1" height="18" fill="#2962ff"/><rect x="816" y="319" width="3" height="12" fill="#2962ff"/><rect x="821" y="306" width="1" height="12" fill="#ef5350"/><rect x="820" y="313" width="3" height="1" fill="#ef5350"/><rect x="824" y="308" width="1" height="14" fill="#ef5350"/><rect x="823" y="308" width="3" height="11" fill="#ef5350"/><rect x="828" y="315" width="1" height="9" fill="#ef5350"/><rect x="827" y="316" width="3" height="5" fill="#ef5350"/><rect x="832" y="310" width="1" height="10" fill="#2962ff"/><rect x="831" y="312" width="3" height="3" fill="#2962ff"/><rect x="835" y="315" width="1" height="9" fill="#ef5350"/><rect x="834" y="316" width="3" height="6" fill="#ef5350"/><rect x="839" y="317" width="1" height="9" fill="#2962ff"/><rect x="838" y="319" width="3" height="4" fill="#2962ff"/><rect x="843" y="313" width="1" height="7" fill="#ef5350"/><rect x="842" y="318" width="3" height="1" fill="#ef5350"/><rect x="846" y="322" width="1" height="10" fill="#ef5350"/><rect x="845" y="323" width="3" height="9" fill="#ef5350"/><rect x="850" y="334" width="1" height="10" fill="#ef5350"/><rect x="849" y="334" width="3" height="7" fill="#ef5350"/><rect x="854" y="333" width="1" height="11" fill="#2962ff"/><rect x="853" y="333" width="3" height="9" fill="#2962ff"/><rect x="857" y="323" width="1" height="9" fill="#ef5350"/><rect x="856" y="329" width="3" height="3" fill="#ef5350"/><rect x="861" y="324" width="1" height="11" fill="#2962ff"/><rect x="860" y="327" width="3" height="4" fill="#2962ff"/><rect x="865" y="335" width="1" height="3" fill="#2962ff"/><rect x="864" y="335" width="3" height="3" fill="#2962ff"/><rect x="868" y="328" width="1" height="13" fill="#2962ff"/><rect x="867" y="329" width="3" height="12" fill="#2962ff"/><rect x="872" y="327" width="1" height="11" fill="#2962ff"/><rect x="871" y="328" width="3" height="9" fill="#2962ff"/><rect x="876" y="324" width="1" height="4" fill="#2962ff"/><rect x="875" y="324" width="3" height="4" fill="#2962ff"/><rect x="879" y="316" width="1" height="12" fill="#2962ff"/><rect x="878" y="321" width="3" height="4" fill="#2962ff"/><rect x="883" y="315" width="1" height="11" fill="#2962ff"/><rect x="882" y="324" width="3" height="1" fill="#2962ff"/><rect x="887" y="325" width="1" height="8" fill="#2962ff"/><rect x="886" y="326" width="3" height="2" fill="#2962ff"/><rect x="890" y="322" width="1" height="8" fill="#ef5350"/><rect x="889" y="323" width="3" height="7" fill="#ef5350"/><rect x="894" y="297" width="1" height="16" fill="#ef5350"/><rect x="893" y="304" width="3" height="6" fill="#ef5350"/><rect x="898" y="302" width="1" height="14" fill="#ef5350"/><rect x="897" y="307" width="3" height="9" fill="#ef5350"/><rect x="901" y="312" width="1" height="10" fill="#ef5350"/><rect x="900" y="315" width="3" height="7" fill="#ef5350"/><rect x="905" y="315" width="1" height="6" fill="#ef5350"/><rect x="904" y="320" width="3" height="1" fill="#ef5350"/></g>
<path d="M436.6 44.9 L963.5 335.2" stroke="#0c0c0c" stroke-width="1" fill="none"/>
<defs><filter id="halo" x="-3%" y="-25%" width="106%" height="150%"><feMorphology in="SourceAlpha" operator="dilate" radius="1.1" result="d"/><feGaussianBlur in="d" stdDeviation="0.6" result="b"/><feFlood flood-color="#ffffff" flood-opacity="1"/><feComposite in2="b" operator="in" result="h"/><feGaussianBlur in="SourceGraphic" stdDeviation="0.45" result="s"/><feMerge><feMergeNode in="h"/><feMergeNode in="s"/></feMerge></filter><filter id="fb" x="-20%" y="-20%" width="140%" height="140%"><feGaussianBlur stdDeviation="0.45"/></filter></defs>
<text stroke-linejoin="round" filter="url(#halo)"><tspan x="48.62" y="311.6" font-size="47.5" textLength="27.86" lengthAdjust="spacingAndGlyphs" fill="#fcd5bf" stroke="#fcd5bf" stroke-width="0.9">e</tspan><tspan x="75.05" y="311.6" font-size="47.5" textLength="28.18" lengthAdjust="spacingAndGlyphs" fill="#fcd5bf" stroke="#fcd5bf" stroke-width="0.9">c</tspan><tspan x="102.48" y="311.6" font-size="47.5" textLength="31.33" lengthAdjust="spacingAndGlyphs" fill="#fcd5bf" stroke="#fcd5bf" stroke-width="0.9">o</tspan><tspan x="132.73" y="311.6" font-size="47.5" textLength="28.67" lengthAdjust="spacingAndGlyphs" fill="#fcd5bf" stroke="#fcd5bf" stroke-width="0.9">n</tspan><tspan x="160.49" y="311.6" font-size="47.5" textLength="31.21" lengthAdjust="spacingAndGlyphs" fill="#fcd5bf" stroke="#fcd5bf" stroke-width="0.9">o</tspan><tspan x="190.37" y="311.6" font-size="47.5" textLength="41.13" lengthAdjust="spacingAndGlyphs" fill="#fcd5bf" stroke="#fcd5bf" stroke-width="0.9">m</tspan><tspan x="228.81" y="311.6" font-size="47.5" textLength="14.41" lengthAdjust="spacingAndGlyphs" fill="#fcd5bf" stroke="#fcd5bf" stroke-width="0.9">i</tspan><tspan x="241.61" y="311.6" font-size="47.5" textLength="27.98" lengthAdjust="spacingAndGlyphs" fill="#fcd5bf" stroke="#fcd5bf" stroke-width="0.9">e</tspan><tspan x="269.78" y="311.6" font-size="47.5" textLength="22.93" lengthAdjust="spacingAndGlyphs" fill="#fcd5bf" stroke="#fcd5bf" stroke-width="0.9">s</tspan><tspan x="294.46" y="308.9" font-size="42.2" textLength="10.48" lengthAdjust="spacingAndGlyphs" fill="#dcdcdc" stroke="#dcdcdc" stroke-width="0.01">.</tspan><tspan x="302.14" y="308.9" font-size="42.2" textLength="24.34" lengthAdjust="spacingAndGlyphs" fill="#dcdcdc" stroke="#dcdcdc" stroke-width="0.01">c</tspan><tspan x="326.70" y="308.9" font-size="42.2" textLength="27.90" lengthAdjust="spacingAndGlyphs" fill="#dcdcdc" stroke="#dcdcdc" stroke-width="0.01">o</tspan><tspan x="352.83" y="308.9" font-size="42.2" textLength="41.12" lengthAdjust="spacingAndGlyphs" fill="#dcdcdc" stroke="#dcdcdc" stroke-width="0.01">m</tspan></text>
<text stroke-linejoin="round" filter="url(#halo)"><tspan x="87.79" y="351.4" font-size="44" textLength="22.88" lengthAdjust="spacingAndGlyphs" font-weight="bold" fill="#e5e5e5" stroke="#e5e5e5" stroke-width="0.6">F</tspan><tspan x="113.66" y="351.4" font-size="44" textLength="19.77" lengthAdjust="spacingAndGlyphs" fill="#f4f4f4" stroke="#f4f4f4" stroke-width="0.6">x</tspan><tspan x="134.92" y="351.4" font-size="44" textLength="36.48" lengthAdjust="spacingAndGlyphs" font-weight="bold" fill="#dcdcdc" stroke="#dcdcdc" stroke-width="0.6">N</tspan><tspan x="169.40" y="351.4" font-size="44" textLength="20.98" lengthAdjust="spacingAndGlyphs" fill="#e2e2e2" stroke="#e2e2e2" stroke-width="0.6">e</tspan><tspan x="190.36" y="351.4" font-size="44" textLength="27.95" lengthAdjust="spacingAndGlyphs" fill="#e2e2e2" stroke="#e2e2e2" stroke-width="0.6">w</tspan><tspan x="219.39" y="351.4" font-size="44" textLength="16.40" lengthAdjust="spacingAndGlyphs" fill="#e2e2e2" stroke="#e2e2e2" stroke-width="0.6">s</tspan><tspan x="235.34" y="351.4" font-size="44" textLength="25.20" lengthAdjust="spacingAndGlyphs" font-weight="bold" fill="#e0e0e0" stroke="#e0e0e0" stroke-width="0.6">T</tspan><tspan x="259.66" y="351.4" font-size="44" textLength="21.67" lengthAdjust="spacingAndGlyphs" fill="#e2e2e2" stroke="#e2e2e2" stroke-width="0.6">o</tspan><tspan x="279.46" y="351.4" font-size="44" textLength="24.37" lengthAdjust="spacingAndGlyphs" fill="#e2e2e2" stroke="#e2e2e2" stroke-width="0.6">d</tspan><tspan x="302.43" y="351.4" font-size="44" textLength="19.27" lengthAdjust="spacingAndGlyphs" fill="#e2e2e2" stroke="#e2e2e2" stroke-width="0.6">a</tspan><tspan x="324.60" y="351.4" font-size="44" textLength="21.49" lengthAdjust="spacingAndGlyphs" fill="#e2e2e2" stroke="#e2e2e2" stroke-width="0.6">y</tspan></text>
<path d="M112.3 327.6 L120.8 337.2 L132.2 328.4" stroke="#ecdada" stroke-width="3" fill="none" stroke-linecap="round" stroke-linejoin="round" filter="url(#fb)"/><path d="M114 347.6 L124.9 337.2 L133.8 347.6" stroke="#e2eee2" stroke-width="3" fill="none" stroke-linecap="round" stroke-linejoin="round" filter="url(#fb)"/>
<path d="M3 319.5 H88 M111 319.5 H234 M261 319.5 H295 M303 319.5 H1125" stroke="#ef5350" stroke-width="1" stroke-dasharray="1 2" fill="none" shape-rendering="crispEdges"/>
<path d="M3 320.5 H88 M111 320.5 H234 M261 320.5 H295 M303 320.5 H1125" stroke="#ff9800" stroke-width="1" stroke-dasharray="1 2" fill="none" shape-rendering="crispEdges"/>
<rect x="3" y="403" width="1175" height="1" fill="#e0e3eb"/>
<path d="M3 425.5 H1124" stroke="#787b86" stroke-width="1" stroke-dasharray="5 6" fill="none" shape-rendering="crispEdges"/>
<path d="M3 445.5 H1124" stroke="#b4b6bd" stroke-width="1" stroke-dasharray="5 6" fill="none" shape-rendering="crispEdges"/>
<path d="M3 465.5 H1124" stroke="#787b86" stroke-width="1" stroke-dasharray="5 6" fill="none" shape-rendering="crispEdges"/>
<path d="M3.0 417.5 L5.9 413.8 L9.3 413.3 L12.7 415.9 L16.1 424.3 L18.6 436.2 L21.2 447.7 L25.0 462.0 L30.0 472.0 L36.0 476.0 L42.0 474.0 L48.0 466.0 L52.0 456.0 L55.0 447.7 L57.6 437.9 L60.1 429.4 L62.3 429.7 L65.2 427.7 L68.6 427.2 L72.0 429.4 L75.4 437.0 L77.9 443.3 L81.3 443.3 L83.8 440.4 L86.4 432.8 L88.9 422.6 L91.4 415.0 L94.0 412.5 L98.2 411.6 L105.0 411.6 L111.8 412.8 L116.8 415.9 L121.1 418.4 L125.3 418.4 L130.4 415.9 L135.5 413.3 L139.7 412.1 L143.1 417.5 L146.5 425.2 L149.9 431.1 L152.4 433.6 L155.0 435.3 L156.6 443.0 L157.8 447.7 L160.0 458.0 L163.0 466.0 L166.0 468.0 L169.0 464.0 L172.0 456.0 L174.4 447.7 L177.0 441.3 L179.5 437.0 L182.9 434.1 L185.4 429.4 L188.0 424.0 L191.4 420.1 L195.6 416.2 L198.6 415.5 L202.0 412.1 L205.4 411.6 L209.6 415.0 L213.9 415.5 L219.8 416.7 L222.3 420.9 L224.9 427.7 L228.3 435.3 L231.7 445.5 L235.0 453.1 L239.3 458.2 L243.5 463.3 L246.9 470.0 L249.8 476.0 L252.8 471.7 L257.0 467.5 L260.4 459.9 L263.8 452.3 L267.2 448.9 L271.4 446.0 L274.8 445.5 L278.6 442.6 L281.6 448.9 L284.1 458.2 L286.7 467.5 L289.7 472.2 L292.6 465.0 L295.2 453.1 L296.8 446.3 L300.6 442.6 L304.5 447.2 L307.0 459.9 L309.5 465.8 L312.9 470.0 L316.3 469.2 L318.9 463.3 L323.9 454.8 L329.0 445.5 L333.8 437.5 L335.8 443.0 L338.3 449.7 L341.7 455.7 L344.6 460.2 L346.8 454.0 L348.8 448.0 L351.0 452.3 L354.4 459.9 L357.8 468.3 L360.0 472.9 L362.9 468.0 L366.3 468.7 L370.5 471.4 L373.9 473.4 L377.3 469.7 L380.0 469.7 L383.4 471.7 L389.3 477.7 L393.5 474.3 L398.6 471.7 L403.7 470.9 L407.1 464.1 L411.3 466.3 L414.7 470.0 L418.1 477.7 L421.5 478.2 L424.4 470.0 L427.4 453.1 L430.8 432.8 L433.3 420.1 L435.9 412.1 L439.3 416.7 L442.7 424.3 L446.9 433.6 L451.1 435.8 L455.4 435.3 L460.4 437.9 L464.7 436.2 L468.1 434.8 L472.3 438.7 L474.8 448.0 L478.2 461.6 L481.6 471.7 L485.0 476.8 L487.5 478.2 L490.9 475.1 L495.2 471.7 L500.2 469.2 L506.2 471.7 L511.2 470.4 L516.3 463.3 L520.6 445.5 L523.9 439.6 L528.2 431.1 L531.6 429.7 L534.1 437.9 L537.5 451.4 L540.0 463.3 L542.6 477.7 L545.1 478.5 L548.5 475.1 L552.7 468.3 L556.1 462.4 L559.5 461.6 L562.9 465.0 L567.1 471.7 L573.1 473.4 L580.0 474.3 L586.8 476.0 L595.2 476.8 L601.2 477.2 L604.6 478.2 L607.9 473.4 L612.2 469.2 L615.6 465.0 L619.0 457.3 L622.3 456.5 L625.7 459.9 L630.0 471.7 L633.3 475.1 L635.9 465.0 L639.3 452.3 L641.8 443.8 L644.9 434.5 L648.6 437.0 L652.0 429.4 L656.2 419.2 L660.4 412.1 L670.6 411.8 L672.8 420.1 L675.7 432.8 L679.1 448.0 L681.6 458.2 L685.0 465.0 L689.2 470.9 L692.6 473.1 L695.2 466.7 L698.5 453.1 L701.9 439.6 L704.5 433.6 L707.9 429.7 L713.8 429.4 L720.6 427.7 L724.8 421.8 L728.2 419.6 L732.4 420.6 L736.6 423.5 L740.0 426.0 L744.3 423.5 L747.7 420.1 L750.7 415.9 L752.7 420.9 L755.3 434.5 L757.8 448.0 L761.2 458.2 L764.6 465.8 L768.0 470.9 L772.2 473.4 L776.4 470.0 L780.0 461.6 L783.0 460.4 L786.8 460.2 L789.3 464.1 L791.9 470.0 L796.1 474.3 L801.2 478.2 L809.6 478.5 L813.0 470.0 L816.4 453.1 L819.8 432.8 L822.3 420.9 L824.0 415.9 L830.8 415.5 L835.9 417.5 L841.8 418.4 L846.0 421.8 L850.3 429.4 L854.2 433.6 L857.9 427.7 L860.9 423.5 L863.8 426.9 L867.2 426.9 L871.4 426.0 L874.8 418.4 L878.2 415.0 L882.5 414.5 L886.7 419.2 L890.1 425.7 L894.3 423.5 L897.7 422.3 L901.1 425.2 L905.0 432.5" stroke="#2962ff" stroke-width="1" fill="none" stroke-linejoin="round"/>
<path d="M3.0 425.2 L5.9 419.2 L9.3 415.5 L11.9 414.2 L15.2 416.7 L17.8 422.6 L20.3 431.9 L22.9 440.4 L25.4 447.7 L29.0 460.0 L34.0 470.0 L40.0 474.0 L46.0 472.0 L52.0 463.0 L56.0 454.0 L58.4 447.7 L61.0 439.6 L63.5 432.8 L66.9 428.6 L69.4 427.7 L72.8 429.4 L76.2 433.6 L79.6 437.9 L83.0 440.4 L85.5 439.6 L88.1 434.5 L91.4 426.0 L94.8 418.4 L98.2 413.8 L101.6 412.1 L110.0 412.0 L115.2 413.3 L120.2 415.9 L124.5 417.5 L128.7 417.2 L133.8 415.5 L138.0 413.8 L141.4 413.3 L144.8 416.7 L148.2 421.8 L151.6 426.9 L155.0 431.1 L158.3 438.7 L162.6 447.7 L165.0 456.0 L168.0 462.0 L171.0 463.0 L174.0 459.0 L177.0 452.0 L178.7 447.7 L181.2 442.1 L184.6 437.0 L188.0 431.9 L191.4 426.0 L195.2 420.1 L200.3 416.2 L204.6 413.8 L208.8 413.3 L214.7 414.5 L220.6 416.2 L224.9 420.9 L228.3 426.9 L231.7 436.2 L235.0 445.5 L238.4 452.3 L242.7 458.2 L246.9 464.1 L250.3 469.2 L253.7 472.2 L257.0 472.2 L260.4 468.3 L263.8 460.7 L267.2 454.8 L271.4 449.4 L275.7 446.0 L279.9 444.6 L283.3 448.9 L286.7 457.3 L290.1 465.0 L293.5 467.5 L296.0 462.4 L299.4 453.1 L302.8 447.2 L305.3 445.5 L307.9 450.6 L311.2 458.2 L314.6 465.8 L317.2 468.7 L321.4 465.0 L325.6 457.3 L329.9 449.7 L334.1 443.8 L337.5 443.8 L340.9 447.7 L345.1 454.8 L349.3 454.3 L352.7 454.5 L356.1 456.5 L359.5 463.3 L362.9 468.0 L366.3 469.2 L370.5 470.0 L374.7 471.7 L380.0 471.4 L385.1 471.7 L391.0 475.1 L396.1 475.1 L402.0 472.6 L407.9 468.3 L413.0 466.3 L418.1 471.7 L422.3 475.5 L425.7 471.7 L430.0 458.2 L433.3 441.3 L436.7 425.2 L440.1 417.5 L443.5 418.4 L446.9 426.0 L451.1 431.9 L456.2 435.3 L462.1 436.5 L467.2 436.2 L472.3 436.5 L476.5 443.0 L479.9 454.8 L484.1 467.5 L488.4 475.1 L490.9 476.8 L495.2 475.1 L501.9 470.9 L507.9 470.9 L512.9 470.0 L518.0 465.8 L522.2 454.8 L526.5 443.0 L529.9 436.2 L533.3 433.6 L535.8 435.3 L539.2 443.0 L542.6 458.2 L546.0 471.7 L549.3 476.5 L553.6 473.4 L558.7 466.7 L562.9 463.3 L566.3 465.0 L570.5 470.0 L575.6 472.6 L580.0 473.6 L588.5 475.5 L596.9 476.5 L605.4 477.3 L610.5 475.1 L615.6 470.0 L619.8 462.4 L623.2 459.0 L626.6 458.5 L630.0 464.1 L634.2 469.7 L637.6 468.3 L641.0 458.2 L645.2 445.5 L649.4 437.9 L652.8 432.8 L656.2 428.6 L660.4 420.1 L664.7 414.2 L668.1 412.1 L671.4 412.5 L674.8 417.5 L678.2 427.7 L681.6 441.3 L685.0 454.0 L689.2 464.1 L693.5 469.7 L696.8 467.5 L700.2 459.9 L703.6 448.0 L707.0 437.0 L711.2 431.1 L717.2 429.1 L722.2 427.7 L727.3 423.5 L731.6 420.6 L735.8 420.6 L740.0 423.0 L743.4 424.3 L747.7 423.0 L751.0 419.6 L755.3 421.8 L757.8 431.9 L761.2 443.8 L764.6 454.8 L768.0 464.1 L771.4 470.0 L774.7 472.6 L778.1 470.9 L780.0 468.0 L783.5 463.5 L787.6 460.7 L791.9 465.0 L796.9 471.7 L802.0 476.5 L810.5 478.2 L814.7 471.7 L818.1 459.9 L821.5 443.0 L824.9 426.9 L828.3 418.9 L832.5 415.5 L838.4 416.7 L844.4 418.4 L848.6 422.6 L852.8 427.7 L857.1 430.8 L862.1 428.0 L868.1 425.7 L872.3 426.9 L876.5 422.6 L880.8 417.5 L884.1 415.0 L888.4 418.4 L893.5 422.6 L898.5 423.5 L901.9 423.5 L905.0 426.9" stroke="#ff6d00" stroke-width="1" fill="none" stroke-linejoin="round"/>
<rect x="0" y="448" width="180" height="38" fill="#fff"/>
<g opacity="0.995">
<text x="1132.5" y="43.9" font-size="12" fill="#131722" textLength="37" lengthAdjust="spacingAndGlyphs">350.00</text>
<text x="1132.5" y="80.0" font-size="12" fill="#131722" textLength="37" lengthAdjust="spacingAndGlyphs">325.00</text>
<text x="1132.5" y="116.1" font-size="12" fill="#131722" textLength="37" lengthAdjust="spacingAndGlyphs">300.00</text>
<text x="1132.5" y="152.2" font-size="12" fill="#131722" textLength="37" lengthAdjust="spacingAndGlyphs">275.00</text>
<text x="1132.5" y="188.2" font-size="12" fill="#131722" textLength="37" lengthAdjust="spacingAndGlyphs">250.00</text>
<text x="1132.5" y="224.4" font-size="12" fill="#131722" textLength="37" lengthAdjust="spacingAndGlyphs">225.00</text>
<text x="1132.5" y="260.4" font-size="12" fill="#131722" textLength="37" lengthAdjust="spacingAndGlyphs">200.00</text>
<text x="1132.5" y="296.6" font-size="12" fill="#131722" textLength="37" lengthAdjust="spacingAndGlyphs">175.00</text>
<text x="1132.5" y="332.6" font-size="12" fill="#131722" textLength="37" lengthAdjust="spacingAndGlyphs">150.00</text>
<text x="1132.5" y="368.8" font-size="12" fill="#131722" textLength="37" lengthAdjust="spacingAndGlyphs">125.00</text>
<text x="1132.5" y="404.8" font-size="12" fill="#131722" textLength="37" lengthAdjust="spacingAndGlyphs">100.00</text>
<rect x="1126" y="3" width="51" height="33.3" fill="#fff"/>
<rect x="1126" y="404" width="51" height="4" fill="#fff"/>
<rect x="1125" y="403" width="53" height="1" fill="#e0e3eb"/>
<text x="1132.5" y="416.7" font-size="12" fill="#131722" textLength="37" lengthAdjust="spacingAndGlyphs">100.00</text>
<text x="1132.5" y="449.8" font-size="12" fill="#131722" textLength="30" lengthAdjust="spacingAndGlyphs">50.00</text>
<text x="1132.5" y="482.8" font-size="12" fill="#131722" textLength="23.6" lengthAdjust="spacingAndGlyphs">0.00</text>
<path d="M1125 288 H1172 Q1174 288 1174 290 V303 Q1174 305 1172 305 H1125 Z" fill="#f23645"/>
<text x="1133.6" y="300.8" font-size="12" fill="#fff" font-weight="bold" textLength="35.6" lengthAdjust="spacingAndGlyphs">171.76</text>
<path d="M1125 311 H1172 Q1174 311 1174 313 V326 Q1174 328 1172 328 H1125 Z" fill="#ef5350"/>
<text x="1133.6" y="323.8" font-size="12" fill="#fff" font-weight="bold" textLength="35.6" lengthAdjust="spacingAndGlyphs">155.97</text>
<path d="M1125 341 H1172 Q1174 341 1174 343 V356 Q1174 358 1172 358 H1125 Z" fill="#089981"/>
<text x="1133.6" y="353.8" font-size="12" fill="#fff" font-weight="bold" textLength="35.6" lengthAdjust="spacingAndGlyphs">135.25</text>
<rect x="1128.5" y="6.5" width="45" height="25" rx="4" ry="4" fill="#fff" stroke="#ebebee" stroke-width="1"/>
<text x="1131.4" y="23" font-size="12.3" fill="#131722" textLength="22.6" lengthAdjust="spacingAndGlyphs">USD</text>
<path d="M1164.2 18.4 L1166.6 20.5 L1169 18.4" stroke="#131722" stroke-width="1.25" fill="none" stroke-linecap="round" stroke-linejoin="round"/>
<text x="20.6" y="503.8" font-size="12" fill="#131722" textLength="19.5" lengthAdjust="spacingAndGlyphs">Apr</text>
<text x="96.0" y="503.8" font-size="12" fill="#131722" textLength="22" lengthAdjust="spacingAndGlyphs">May</text>
<text x="174.2" y="503.8" font-size="12" fill="#131722" textLength="19.3" lengthAdjust="spacingAndGlyphs">Jun</text>
<text x="249.0" y="503.8" font-size="12" fill="#131722" textLength="16.3" lengthAdjust="spacingAndGlyphs">Jul</text>
<text x="327.4" y="503.8" font-size="12" fill="#131722" textLength="20.6" lengthAdjust="spacingAndGlyphs">Aug</text>
<text x="404.8" y="503.8" font-size="12" fill="#131722" textLength="19.7" lengthAdjust="spacingAndGlyphs">Sep</text>
<text x="481.5" y="503.8" font-size="12" fill="#131722" textLength="19.7" lengthAdjust="spacingAndGlyphs">Oct</text>
<text x="564.9" y="503.8" font-size="12" fill="#131722" textLength="21.4" lengthAdjust="spacingAndGlyphs">Nov</text>
<text x="635.1" y="503.8" font-size="12" fill="#131722" textLength="19.6" lengthAdjust="spacingAndGlyphs">Dec</text>
<text x="711.2" y="503.8" font-size="12" fill="#131722" font-weight="bold" textLength="28.1" lengthAdjust="spacingAndGlyphs">2026</text>
<text x="789.0" y="503.8" font-size="12" fill="#131722" textLength="19.6" lengthAdjust="spacingAndGlyphs">Feb</text>
<text x="857.6" y="503.8" font-size="12" fill="#131722" textLength="21.5" lengthAdjust="spacingAndGlyphs">Mar</text>
<text x="938.8" y="503.8" font-size="12" fill="#131722" textLength="19.5" lengthAdjust="spacingAndGlyphs">Apr</text>
<text x="1014.3" y="503.8" font-size="12" fill="#131722" textLength="22" lengthAdjust="spacingAndGlyphs">May</text>
<text x="1089.1" y="503.8" font-size="12" fill="#131722" textLength="19.3" lengthAdjust="spacingAndGlyphs">Jun</text>
</g>
<path d="M1144.6 500.4 L1147.8 494.9 H1155.2 L1158.5 500.4 L1155.2 506 H1147.8 Z" stroke="#131722" stroke-width="1.05" fill="none" stroke-linejoin="round"/>
<circle cx="1151.5" cy="500.4" r="2" stroke="#131722" stroke-width="1.1" fill="none"/>
<rect x="3" y="514" width="1175" height="1" fill="#e3e4e8"/>
</svg>
</body>
</html>
